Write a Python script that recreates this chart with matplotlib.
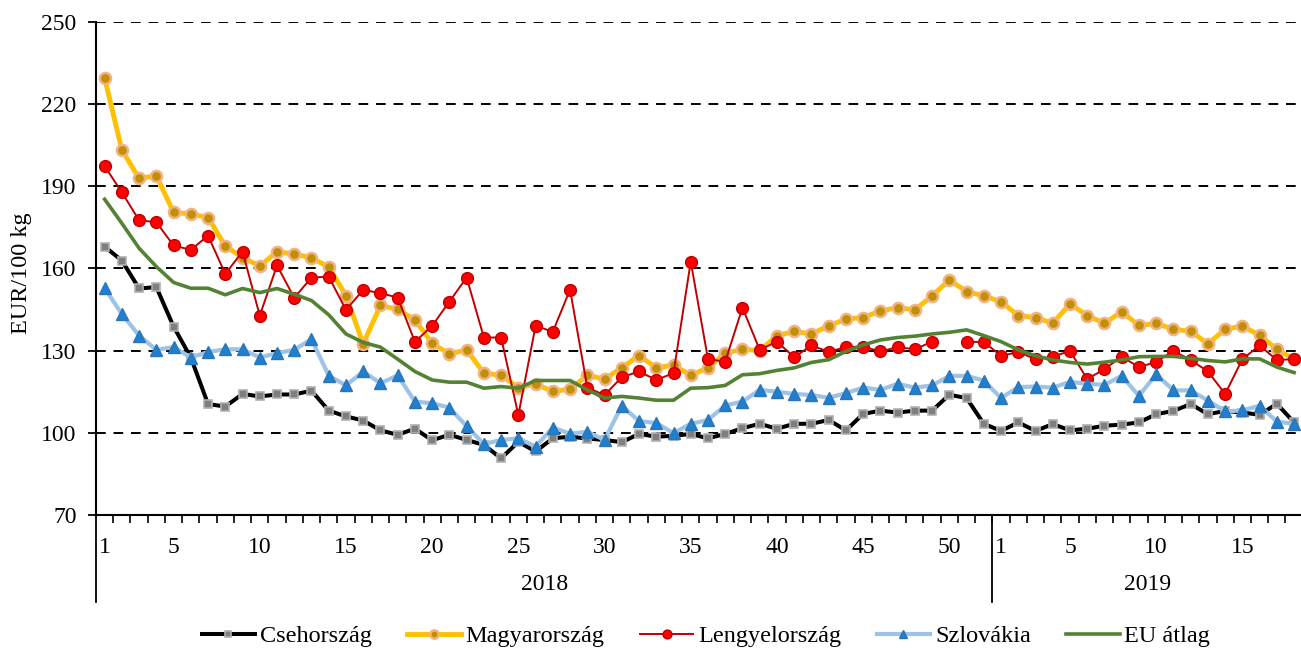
import numpy as np
import matplotlib
matplotlib.use("Agg")
import matplotlib.pyplot as plt
import matplotlib.transforms as mtransforms

# ---- data ----
weeks_2018 = list(range(1, 53))
weeks_2019 = list(range(1, 19))
years = ["2018", "2019"]
tick_weeks_2018 = [1, 5, 10, 15, 20, 25, 30, 35, 40, 45, 50]
tick_weeks_2019 = [1, 5, 10, 15]

cseh = [168.0, 162.9, 152.7, 153.2, 138.8, 127.5, 110.5, 109.6, 114.2, 113.3,
        114.0, 114.0, 115.4, 108.1, 106.0, 104.5, 100.9, 99.3, 101.5, 97.3,
        99.3, 97.4, 95.6, 90.7, 96.7, 93.2, 98.0, 98.6, 97.9, 97.4,
        96.6, 99.6, 98.6, 98.9, 99.6, 98.0, 99.6, 101.7, 103.3, 101.5,
        103.3, 103.3, 104.7, 100.9, 106.9, 108.1, 107.4, 108.1, 108.1, 113.9,
        112.7, 103.3,
        100.7, 103.8, 100.7, 103.2, 100.9, 101.5, 102.6, 103.0, 103.8, 106.8,
        108.0, 110.5, 106.8, 108.0, 107.4, 106.6, 110.6, 103.8]
magyar = [229.5, 203.3, 192.9, 193.9, 180.5, 179.9, 178.6, 168.2, 164.0, 160.9,
          166.1, 165.3, 163.9, 160.5, 150.1, 132.5, 146.5, 145.1, 141.2, 132.7,
          128.8, 130.3, 121.8, 121.0, 116.5, 117.8, 115.2, 115.9, 121.0, 119.6,
          123.8, 128.2, 123.8, 124.7, 121.0, 123.8, 129.1, 130.5, 130.0, 135.5,
          137.0, 136.1, 139.1, 141.5, 142.1, 144.5, 145.7, 144.9, 150.0, 155.8,
          151.6, 150.0,
          147.9, 142.8, 142.1, 140.0, 147.1, 142.8, 140.0, 144.2, 139.2, 140.0,
          137.8, 137.1, 132.5, 137.8, 139.0, 135.6, 130.5, 126.9]
lengyel = [197.4, 187.8, 177.6, 176.9, 168.4, 166.8, 172.0, 158.0, 166.2, 142.8,
           161.1, 149.3, 156.7, 157.0, 144.9, 152.2, 151.0, 149.4, 133.2, 139.1,
           147.9, 156.7, 134.8, 134.8, 106.5, 139.1, 136.9, 152.3, 116.5, 113.8,
           120.3, 122.4, 119.3, 121.8, 162.5, 126.9, 126.0, 145.7, 130.3, 133.3,
           127.6, 131.9, 129.6, 131.3, 131.5, 129.7, 131.3, 130.5, 133.3, np.nan,
           133.2, 133.2,
           128.1, 129.5, 126.9, 127.8, 129.9, 119.6, 123.3, 127.8, 124.0, 125.9,
           129.9, 126.6, 122.4, 114.2, 126.9, 131.9, 126.6, 126.9]
szlovakia = [152.8, 143.4, 135.5, 130.3, 131.3, 127.5, 129.5, 130.5, 130.5, 127.5,
             129.1, 130.3, 134.2, 120.9, 117.3, 122.4, 118.1, 121.0, 111.4, 110.8,
             109.2, 102.4, 95.9, 97.4, 98.0, 95.0, 101.9, 99.7, 100.4, 97.4,
             109.9, 104.3, 103.6, 99.9, 103.3, 104.7, 110.0, 111.4, 115.7, 115.0,
             114.2, 113.8, 112.8, 114.5, 116.5, 115.7, 117.9, 116.5, 117.3, 120.8,
             120.8, 119.1,
             112.7, 116.7, 116.9, 116.5, 118.6, 117.9, 117.5, 120.8, 113.5, 121.4,
             115.5, 115.5, 111.8, 107.8, 108.2, 109.9, 104.1, 103.3]
eu = [185.3, 176.5, 167.4, 160.7, 154.9, 152.8, 152.8, 150.4, 152.7, 151.2,
      152.7, 150.6, 148.3, 143.1, 136.1, 133.0, 131.3, 126.9, 122.4, 119.3,
      118.5, 118.5, 116.3, 116.9, 116.3, 119.1, 119.1, 119.1, 115.7, 112.7,
      113.3, 112.7, 111.9, 111.9, 116.3, 116.5, 117.3, 121.2, 121.6, 122.8,
      123.7, 125.7, 126.7, 129.7, 132.1, 133.9, 134.8, 135.3, 136.1, 136.7,
      137.6, 135.5,
      133.3, 130.3, 128.1, 126.6, 125.7, 125.1, 125.8, 126.6, 127.8, 127.9,
      127.9, 127.2, 126.4, 125.9, 127.0, 127.0, 124.0, 122.0]

labels = ["Csehország", "Magyarország", "Lengyelország", "Szlovákia", "EU átlag"]
yticks = [70, 100, 130, 160, 190, 220, 250]

# ---- figure ----
plt.rcParams['font.family'] = ['Liberation Serif', 'DejaVu Serif']
FS = 17
FS_LEG = 17.5

W, H = 1301, 649
fig = plt.figure(figsize=(W / 100, H / 100), dpi=100)
left_px, right_px, top_px, bot_px = 96, 1301, 22, 515
ax = fig.add_axes([left_px / W, (H - bot_px) / H,
                   (right_px - left_px) / W, (bot_px - top_px) / H])

n = len(weeks_2018) + len(weeks_2019)
x = np.arange(n)

ax.plot(x, cseh, color='black', lw=2.9, marker='s', ms=5.5,
        mfc='#7F7F7F', mec='#B0B0B0', mew=1.2, label=labels[0], zorder=3)
ax.plot(x, magyar, color='#FFC000', lw=3.5, marker='o', ms=8,
        mfc='#BF9000', mec='#F4B183', mew=1.8, label=labels[1], zorder=4)
ax.plot(x, lengyel, color='#C00000', lw=1.4, marker='o', ms=8.5,
        mfc='#FF0000', mec='#C00000', mew=1.0, label=labels[2], zorder=5)
ax.plot(x, szlovakia, color='#9DC3E6', lw=3.0, marker='^', ms=8,
        mfc='#1F80D0', mec='#2E75B6', mew=1.0, label=labels[3], zorder=6)
ax.plot(x, eu, color='#548235', lw=2.6, label=labels[4], zorder=7)

ax.set_xlim(-0.5, n - 0.6)
ax.set_ylim(70, 250)
ax.set_yticks(yticks)
ax.set_yticklabels([str(v) for v in yticks], fontsize=FS)
for v in yticks[1:]:
    ax.axhline(v, color='black', lw=1.4, ls=(0, (5, 4)), zorder=1)

# x ticks
major_pos = [w - 1 for w in tick_weeks_2018] + [52 + w - 1 for w in tick_weeks_2019]
major_lab = [str(w) for w in tick_weeks_2018] + [str(w) for w in tick_weeks_2019]
ax.set_xticks(major_pos)
ax.set_xticklabels(major_lab, fontsize=FS)
ax.set_xticks(np.arange(0.5, n - 0.5, 1.0), minor=True)
ax.tick_params(axis='x', which='major', length=0, pad=16)
ax.tick_params(axis='x', which='minor', length=6, width=1.2, direction='out')
ax.tick_params(axis='y', which='major', length=6, width=1.3, direction='out', pad=8)

for s in ['top', 'right']:
    ax.spines[s].set_visible(False)
ax.spines['left'].set_linewidth(1.5)
ax.spines['bottom'].set_linewidth(1.5)

# group separators and year labels
trans = mtransforms.blended_transform_factory(ax.transData, ax.transAxes)
ydrop = -(602 - bot_px) / (bot_px - top_px)
for xs in [-0.5, 51.5]:
    ax.plot([xs, xs], [0, ydrop], color='black', lw=1.3, transform=trans,
            clip_on=False)
yyear = -(585 - bot_px) / (bot_px - top_px)
ax.text(25.5, yyear, years[0], transform=trans, ha='center', va='center', fontsize=FS)
ax.text(52 + 8.5, yyear, years[1], transform=trans, ha='center', va='center', fontsize=FS)

fig.text(22 / W, (H - 273) / H, "EUR/100 kg", rotation=90, ha='center',
         va='center', fontsize=FS_LEG)

leg = fig.legend(loc='center', bbox_to_anchor=(706 / W, (H - 636) / H),
                 ncol=5, frameon=False, fontsize=FS_LEG, handlelength=2.2,
                 handletextpad=0.2, columnspacing=1.45, markerscale=0.75)

fig.savefig("out.png", dpi=100)
